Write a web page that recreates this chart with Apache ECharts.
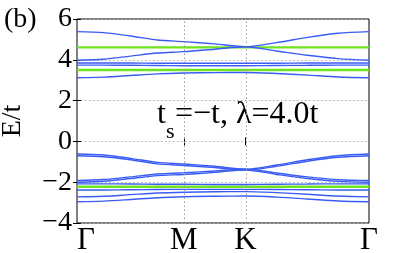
<!DOCTYPE html>
<html><head><meta charset="utf-8">
<script src="https://cdn.jsdelivr.net/npm/echarts@6/dist/echarts.min.js"></script>
<style>html,body{margin:0;padding:0;background:#fff}#c{width:407px;height:253px}</style>
</head><body><div id="c"></div>
<script>
// k-path positions (Γ, M, K, Γ path lengths)
const kPoints = [0, 0.25, 0.5, 0.75, 1, 1.289, 1.577, 1.866, 2.155, 2.443, 2.732];
const kTickValues = [0, 1, 1.577, 2.732];
const kTickLabels = ['Γ', 'M', 'K', 'Γ'];
const yTicks = [-4, -2, 0, 2, 4, 6];

// blue bands
const bandU1 = [5.38, 5.33, 5.17, 4.97, 4.89, 4.78, 4.64, 4.84, 5.10, 5.30, 5.38];
const bandU2 = [3.98, 4.03, 4.18, 4.33, 4.40, 4.52, 4.64, 4.43, 4.22, 4.06, 3.98];
const bandU3 = [3.84, 3.84, 3.84, 3.83, 3.83, 3.83, 3.83, 3.83, 3.84, 3.84, 3.84];
const bandU4 = [3.74, 3.74, 3.73, 3.72, 3.71, 3.71, 3.71, 3.72, 3.73, 3.74, 3.74];
const bandU5 = [3.12, 3.15, 3.23, 3.31, 3.35, 3.37, 3.38, 3.33, 3.25, 3.16, 3.12];
const bandL1a = [-0.62, -0.67, -0.83, -1.03, -1.11, -1.22, -1.36, -1.16, -0.90, -0.70, -0.62];
const bandL1b = [-0.70, -0.75, -0.90, -1.10, -1.18, -1.28, -1.40, -1.22, -0.97, -0.78, -0.70];
const bandL2a = [-1.92, -1.87, -1.74, -1.60, -1.54, -1.45, -1.36, -1.55, -1.74, -1.88, -1.92];
const bandL2b = [-2.00, -1.95, -1.82, -1.68, -1.62, -1.52, -1.40, -1.62, -1.82, -1.96, -2.00];
const bandL3 = [-2.08, -2.08, -2.09, -2.10, -2.10, -2.11, -2.11, -2.10, -2.09, -2.08, -2.08];
const bandL4 = [-2.38, -2.38, -2.37, -2.36, -2.35, -2.35, -2.35, -2.36, -2.37, -2.38, -2.38];
const bandL5a = [-2.72, -2.69, -2.61, -2.53, -2.49, -2.47, -2.46, -2.51, -2.59, -2.68, -2.72];
const bandL5b = [-2.96, -2.93, -2.85, -2.76, -2.71, -2.69, -2.68, -2.73, -2.82, -2.92, -2.96];
// green flat bands
const greenU1 = [4.61, 4.61, 4.61, 4.61, 4.61, 4.61, 4.61, 4.61, 4.61, 4.61, 4.61];
const greenU2 = [3.50, 3.50, 3.50, 3.50, 3.50, 3.50, 3.50, 3.50, 3.50, 3.50, 3.50];
const greenL1 = [-2.22, -2.22, -2.22, -2.22, -2.22, -2.22, -2.22, -2.22, -2.22, -2.22, -2.22];

const blueBands = [bandU1, bandU2, bandU3, bandU4, bandU5, bandL1a, bandL1b, bandL2a, bandL2b, bandL3, bandL4, bandL5a, bandL5b];
const greenBands = [greenU1, greenU2, greenL1];

const BLUE = '#3a5cf5', GREEN = '#6ee41e';
const FONT = '"Liberation Serif", "Times New Roman", serif';
const toPairs = arr => kPoints.map((k, i) => [k, arr[i]]);

const series = [];
greenBands.forEach(b => series.push({type:'line', data: toPairs(b), showSymbol:false, smooth:0.3, lineStyle:{color:GREEN, width:2.4}, z:2}));
blueBands.forEach(b => series.push({type:'line', data: toPairs(b), showSymbol:false, smooth:0.3, lineStyle:{color:BLUE, width:1.4}, z:3}));
series[0].markLine = {silent:true, symbol:'none', label:{show:false}, lineStyle:{color:'#999', type:[1.5,2.5], width:1}, data: [{xAxis: kTickValues[1]}, {xAxis: kTickValues[2]}]};

const chart = echarts.init(document.getElementById('c'), null, {renderer:'canvas'});
chart.setOption({
  animation:false,
  textStyle:{fontFamily:FONT, color:'#000'},
  grid:{left:77, right:38, top:19, bottom:30, show:true, borderColor:'#000', borderWidth:1, backgroundColor:'transparent', outerBoundsMode:'none'},
  xAxis:[{
    type:'value', min:0, max:2.732,
    axisLine:{show:false},
    splitLine:{show:false},
    axisTick:{show:true, inside:true, length:4, customValues:[kTickValues[1], kTickValues[2]], lineStyle:{color:'#000'}},
    axisLabel:{customValues:kTickValues, formatter:(v)=>{const i=kTickValues.findIndex(t=>Math.abs(t-v)<1e-6);return i>=0?kTickLabels[i]:'';}, color:'#000', fontFamily:FONT, fontSize:31, margin:2, alignMinLabel:'left', alignMaxLabel:'center'}
  },{
    type:'value', min:0, max:2.732, position:'top',
    axisLine:{show:false}, splitLine:{show:false}, axisLabel:{show:false},
    axisTick:{show:true, inside:true, length:4, customValues:[kTickValues[1], kTickValues[2]], lineStyle:{color:'#000'}}
  }],
  yAxis:[{
    type:'value', min:-4, max:6, interval:2,
    name:'E/t', nameLocation:'middle', nameGap:50, nameRotate:90,
    nameTextStyle:{color:'#000', fontFamily:FONT, fontSize:28},
    axisLine:{show:false},
    axisTick:{show:true, inside:true, length:4, lineStyle:{color:'#000'}},
    splitLine:{show:true, lineStyle:{color:'#aaa', type:[1.5,2.5], width:1}},
    axisLabel:{color:'#000', fontFamily:FONT, fontSize:28, margin:5, formatter:v=>String(v).replace('-', '\u2212')}
  },{
    type:'value', min:-4, max:6, interval:2, position:'right',
    axisLine:{show:false}, splitLine:{show:false}, axisLabel:{show:false},
    axisTick:{show:true, inside:true, length:4, lineStyle:{color:'#000'}}
  }],
  graphic:[
    {type:'text', x:4, y:6, style:{text:'(b)', fontSize:28, fontFamily:FONT, fill:'#000'}},
    {type:'text', x:157, y:99, style:{text:'t', fontSize:32, fontFamily:FONT, fill:'#000'}},
    {type:'text', x:166, y:121, style:{text:'s', fontSize:22, fontFamily:FONT, fill:'#000'}},
    {type:'text', x:175, y:99, style:{text:'=\u2212t, \u03bb=4.0t', fontSize:32, fontFamily:FONT, fill:'#000'}}
  ],
  series: series
});
</script></body></html>
